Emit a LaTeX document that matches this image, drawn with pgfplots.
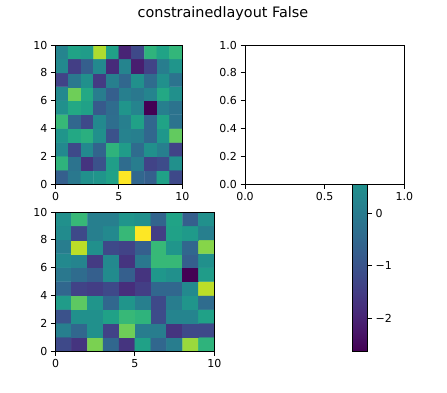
\documentclass[border=0pt]{standalone}
\usepackage{fontspec}
\setmainfont{DejaVu Sans}
\usepackage{pgfplots}
\usepackage{pgfplotstable}
\pgfplotsset{compat=1.18}

\pgfplotstableread{
x y c
0.5 0.5 0.30
1.5 0.5 0.40
2.5 0.5 0.50
3.5 0.5 0.52
4.5 0.5 0.57
5.5 0.5 1.00
6.5 0.5 0.33
7.5 0.5 0.30
8.5 0.5 0.57
9.5 0.5 0.22
0.5 1.5 0.65
1.5 1.5 0.38
2.5 1.5 0.15
3.5 1.5 0.25
4.5 1.5 0.56
5.5 1.5 0.35
6.5 1.5 0.42
7.5 1.5 0.20
8.5 1.5 0.23
9.5 1.5 0.50
0.5 2.5 0.47
1.5 2.5 0.22
2.5 2.5 0.47
3.5 2.5 0.32
4.5 2.5 0.65
5.5 2.5 0.55
6.5 2.5 0.35
7.5 2.5 0.50
8.5 2.5 0.43
9.5 2.5 0.20
0.5 3.5 0.52
1.5 3.5 0.60
2.5 3.5 0.63
3.5 3.5 0.50
4.5 3.5 0.25
5.5 3.5 0.44
6.5 3.5 0.43
7.5 3.5 0.33
8.5 3.5 0.53
9.5 3.5 0.76
0.5 4.5 0.67
1.5 4.5 0.33
2.5 4.5 0.22
3.5 4.5 0.47
4.5 4.5 0.36
5.5 4.5 0.43
6.5 4.5 0.57
7.5 4.5 0.33
8.5 4.5 0.58
9.5 4.5 0.38
0.5 5.5 0.50
1.5 5.5 0.60
2.5 5.5 0.57
3.5 5.5 0.28
4.5 5.5 0.35
5.5 5.5 0.52
6.5 5.5 0.45
7.5 5.5 0.00
8.5 5.5 0.43
9.5 5.5 0.38
0.5 6.5 0.47
1.5 6.5 0.78
2.5 6.5 0.60
3.5 6.5 0.42
4.5 6.5 0.30
5.5 6.5 0.43
6.5 6.5 0.40
7.5 6.5 0.45
8.5 6.5 0.60
9.5 6.5 0.50
0.5 7.5 0.20
1.5 7.5 0.40
2.5 7.5 0.50
3.5 7.5 0.17
4.5 7.5 0.43
5.5 7.5 0.33
6.5 7.5 0.50
7.5 7.5 0.35
8.5 7.5 0.50
9.5 7.5 0.38
0.5 8.5 0.47
1.5 8.5 0.18
2.5 8.5 0.30
3.5 8.5 0.47
4.5 8.5 0.12
5.5 8.5 0.45
6.5 8.5 0.08
7.5 8.5 0.20
8.5 8.5 0.42
9.5 8.5 0.52
0.5 9.5 0.45
1.5 9.5 0.58
2.5 9.5 0.55
3.5 9.5 0.88
4.5 9.5 0.57
5.5 9.5 0.10
6.5 9.5 0.22
7.5 9.5 0.65
8.5 9.5 0.58
9.5 9.5 0.66
}\tableTL

\pgfplotstableread{
x y c
0.5 0.5 0.22
1.5 0.5 0.15
2.5 0.5 0.80
3.5 0.5 0.33
4.5 0.5 0.15
5.5 0.5 0.57
6.5 0.5 0.33
7.5 0.5 0.42
8.5 0.5 0.85
9.5 0.5 0.65
0.5 1.5 0.43
1.5 1.5 0.33
2.5 1.5 0.50
3.5 1.5 0.20
4.5 1.5 0.78
5.5 1.5 0.42
6.5 1.5 0.42
7.5 1.5 0.15
8.5 1.5 0.22
9.5 1.5 0.22
0.5 2.5 0.25
1.5 2.5 0.50
2.5 2.5 0.50
3.5 2.5 0.57
4.5 2.5 0.67
5.5 2.5 0.65
6.5 2.5 0.23
7.5 2.5 0.45
8.5 2.5 0.45
9.5 2.5 0.57
0.5 3.5 0.55
1.5 3.5 0.75
2.5 3.5 0.52
3.5 3.5 0.33
4.5 3.5 0.52
5.5 3.5 0.43
6.5 3.5 0.22
7.5 3.5 0.42
8.5 3.5 0.52
9.5 3.5 0.35
0.5 4.5 0.33
1.5 4.5 0.20
2.5 4.5 0.18
3.5 4.5 0.22
4.5 4.5 0.13
5.5 4.5 0.18
6.5 4.5 0.33
7.5 4.5 0.33
8.5 4.5 0.47
9.5 4.5 0.90
0.5 5.5 0.40
1.5 5.5 0.35
2.5 5.5 0.30
3.5 5.5 0.48
4.5 5.5 0.30
5.5 5.5 0.15
6.5 5.5 0.53
7.5 5.5 0.50
8.5 5.5 0.00
9.5 5.5 0.55
0.5 6.5 0.47
1.5 6.5 0.45
2.5 6.5 0.17
3.5 6.5 0.47
4.5 6.5 0.15
5.5 6.5 0.40
6.5 6.5 0.67
7.5 6.5 0.67
8.5 6.5 0.30
9.5 6.5 0.50
0.5 7.5 0.42
1.5 7.5 0.90
2.5 7.5 0.50
3.5 7.5 0.22
4.5 7.5 0.20
5.5 7.5 0.30
6.5 7.5 0.67
7.5 7.5 0.52
8.5 7.5 0.33
9.5 7.5 0.82
0.5 8.5 0.48
1.5 8.5 0.22
2.5 8.5 0.43
3.5 8.5 0.47
4.5 8.5 0.67
5.5 8.5 1.00
6.5 8.5 0.18
7.5 8.5 0.57
8.5 8.5 0.54
9.5 8.5 0.43
0.5 9.5 0.50
1.5 9.5 0.67
2.5 9.5 0.43
3.5 9.5 0.43
4.5 9.5 0.52
5.5 9.5 0.50
6.5 9.5 0.32
7.5 9.5 0.58
8.5 9.5 0.30
9.5 9.5 0.50
}\tableBL

\pgfplotsset{
  mystyle/.style={
    scale only axis,
    anchor=south west,
    axis line style={black, line width=0.9pt},
    every tick/.style={black, line width=0.9pt},
    tick align=outside,
    major tick length=4.5pt,
    tick label style={font=\fontsize{11}{13}\selectfont},
    /pgf/number format/assume math mode=true,
    xtick pos=bottom, ytick pos=left,
    enlargelimits=false,
  },
  heat/.style={
    mystyle,
    xmin=0, xmax=10, ymin=0, ymax=10,
    xtick={0,5,10}, xticklabels={0,5,10},
    ytick={0,2,4,6,8,10}, yticklabels={0,2,4,6,8,10},
    colormap name=viridis,
    point meta min=0, point meta max=1,
    axis on top,
  },
}

\begin{document}
\begin{tikzpicture}
\path[use as bounding box] (0pt,0pt) rectangle (447pt,392pt);

\node[anchor=base, font=\fontsize{14.4}{17}\selectfont] at (223pt,374.7pt) {constrainedlayout False};

% top-left heatmap
\begin{axis}[heat, at={(55.5pt,208pt)}, width=126.8pt, height=139pt]
\addplot[matrix plot*, mesh/cols=10, point meta=explicit, draw=none] table[x=x, y=y, meta=c] {\tableTL};
\end{axis}

% bottom-left heatmap
\begin{axis}[heat, at={(55.5pt,41pt)}, width=158.8pt, height=139pt]
\addplot[matrix plot*, mesh/cols=10, point meta=explicit, draw=none] table[x=x, y=y, meta=c] {\tableBL};
\end{axis}

% colorbar
\begin{axis}[mystyle, at={(352.3pt,41pt)}, width=15.3pt, height=167pt,
  view={0}{90},
  xmin=0, xmax=1, ymin=-2.61, ymax=0.55,
  xtick=\empty, ytick={-2,-1,0}, yticklabels={−2,−1,0},
  ytick pos=right, yticklabel pos=right,
  colormap name=viridis,
  point meta min=-2.61, point meta max=3.70,
  axis on top]
\addplot3[surf, shader=interp, point meta=y] coordinates {
(0,-2.61,0) (1,-2.61,0)

(0,0.55,0) (1,0.55,0)
};
\end{axis}

% top-right empty axes
\begin{axis}[mystyle, at={(245pt,208pt)}, width=159.3pt, height=139pt,
  xmin=0, xmax=1, ymin=0, ymax=1,
  xtick={0,0.5,1}, xticklabels={0.0,0.5,1.0},
  ytick={0,0.2,0.4,0.6,0.8,1}, yticklabels={0.0,0.2,0.4,0.6,0.8,1.0}]
\addplot[draw=none] coordinates {(0,0)};
\end{axis}
\end{tikzpicture}
\end{document}
